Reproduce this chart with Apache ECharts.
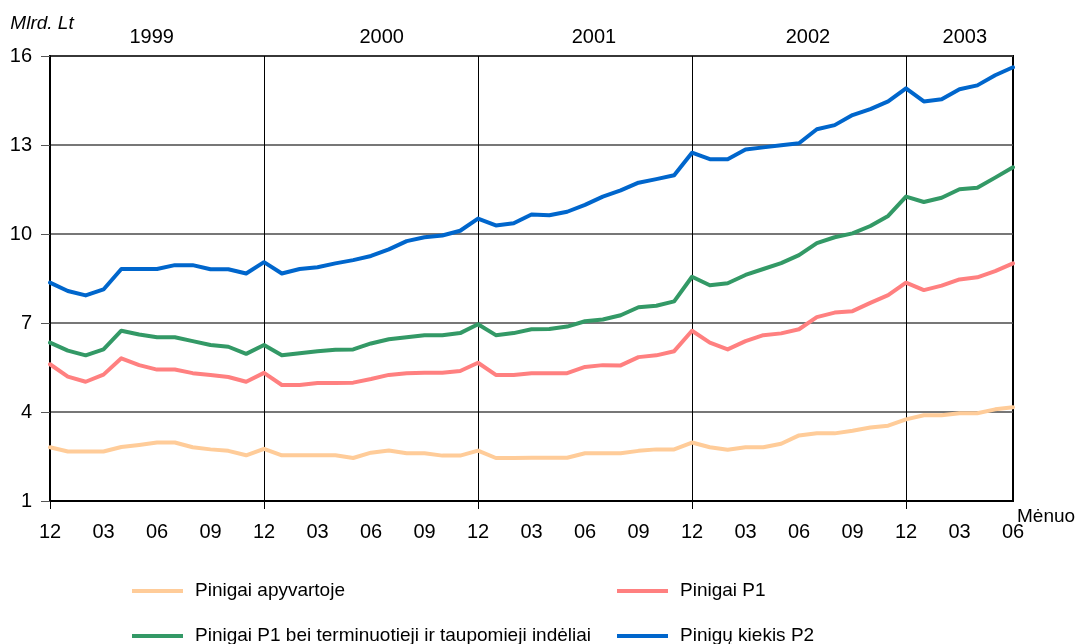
<!DOCTYPE html>
<html>
<head>
<meta charset="utf-8">
<script src="https://cdn.jsdelivr.net/npm/echarts@6/dist/echarts.min.js"></script>
<style>
  html, body { margin: 0; padding: 0; background: #ffffff; }
  #chart { width: 1075px; height: 644px; }
</style>
</head>
<body>
<div id="chart"></div>
<script>
// Monthly observations, December 1998 – June 2003 (billions of litas)
const months = [
  '1998-12',
  '1999-01','1999-02','1999-03','1999-04','1999-05','1999-06','1999-07','1999-08','1999-09','1999-10','1999-11','1999-12',
  '2000-01','2000-02','2000-03','2000-04','2000-05','2000-06','2000-07','2000-08','2000-09','2000-10','2000-11','2000-12',
  '2001-01','2001-02','2001-03','2001-04','2001-05','2001-06','2001-07','2001-08','2001-09','2001-10','2001-11','2001-12',
  '2002-01','2002-02','2002-03','2002-04','2002-05','2002-06','2002-07','2002-08','2002-09','2002-10','2002-11','2002-12',
  '2003-01','2003-02','2003-03','2003-04','2003-05','2003-06'
];

const yearLabels = ['1999', '2000', '2001', '2002', '2003'];

// Pinigai apyvartoje
const cashInCirculation = [
  2.81,
  2.67, 2.67, 2.67, 2.82, 2.89, 2.97, 2.97, 2.81, 2.74, 2.69, 2.54, 2.76,
  2.54, 2.54, 2.54, 2.54, 2.45, 2.63, 2.70, 2.61, 2.61, 2.53, 2.53, 2.70,
  2.45, 2.45, 2.46, 2.46, 2.46, 2.61, 2.61, 2.61, 2.69, 2.74, 2.74, 2.97,
  2.81, 2.73, 2.81, 2.81, 2.93, 3.21, 3.28, 3.28, 3.37, 3.48, 3.54, 3.75,
  3.89, 3.89, 3.96, 3.96, 4.09, 4.16
];

// Pinigai P1
const moneyP1 = [
  5.61,
  5.19, 5.02, 5.26, 5.81, 5.58, 5.43, 5.43, 5.31, 5.25, 5.18, 5.02, 5.32,
  4.91, 4.91, 4.98, 4.98, 4.99, 5.11, 5.25, 5.31, 5.32, 5.32, 5.38, 5.66,
  5.25, 5.25, 5.31, 5.31, 5.31, 5.52, 5.58, 5.57, 5.85, 5.91, 6.05, 6.74,
  6.34, 6.11, 6.39, 6.59, 6.65, 6.79, 7.20, 7.35, 7.40, 7.68, 7.94, 8.36,
  8.11, 8.26, 8.47, 8.54, 8.75, 9.01
];

// Pinigai P1 bei terminuotieji ir taupomieji indėliai
const p1WithDeposits = [
  6.34,
  6.07, 5.91, 6.11, 6.74, 6.61, 6.52, 6.52, 6.39, 6.26, 6.20, 5.96, 6.26,
  5.91, 5.98, 6.05, 6.10, 6.11, 6.31, 6.45, 6.52, 6.59, 6.59, 6.66, 6.96,
  6.59, 6.66, 6.79, 6.80, 6.88, 7.06, 7.12, 7.26, 7.53, 7.58, 7.73, 8.56,
  8.27, 8.34, 8.62, 8.82, 9.02, 9.29, 9.69, 9.89, 10.02, 10.27, 10.61, 11.26,
  11.08, 11.22, 11.51, 11.56, 11.90, 12.25
];

// Pinigų kiekis P2
const moneyP2 = [
  8.36,
  8.08, 7.93, 8.13, 8.82, 8.82, 8.82, 8.95, 8.95, 8.81, 8.81, 8.67, 9.05,
  8.67, 8.82, 8.88, 9.01, 9.12, 9.26, 9.48, 9.76, 9.89, 9.95, 10.11, 10.52,
  10.29, 10.36, 10.66, 10.63, 10.75, 10.98, 11.26, 11.47, 11.73, 11.85, 11.98, 12.74,
  12.52, 12.52, 12.85, 12.92, 12.99, 13.06, 13.53, 13.67, 14.01, 14.21, 14.47, 14.91,
  14.47, 14.54, 14.88, 15.01, 15.35, 15.62
];

const FONT = "'Liberation Sans', Arial, sans-serif";
const FS = 20;        // axis text
const FS_LEGEND = 19; // legend text

// Where each year caption sits along the month index scale
const yearCaptionAt = [5.7, 18.6, 30.5, 42.5, 51.3];

const isDecember = (i) => i % 12 === 0;

const chart = echarts.init(document.getElementById('chart'), null, { renderer: 'canvas' });

const lineSeries = (name, data, color) => ({
  name,
  type: 'line',
  data,
  xAxisIndex: 0,
  yAxisIndex: 0,
  symbol: 'none',
  showSymbol: false,
  smooth: false,
  lineStyle: { color, width: 4, cap: 'round', join: 'round' },
  itemStyle: { color },
  emphasis: { disabled: true },
  animation: false
});

// One legend entry per block so the entries sit in a fixed 2 x 2 arrangement
const legendEntry = (name, left, top) => ({
  left, top,
  padding: 0,
  orient: 'horizontal',
  itemWidth: 51, itemHeight: 4, icon: 'rect',
  textStyle: { fontFamily: FONT, fontSize: FS_LEGEND, color: '#000', padding: [0, 0, 0, 7], lineHeight: 20 },
  data: [name],
  selectedMode: false
});

chart.setOption({
  animation: false,
  backgroundColor: '#ffffff',
  textStyle: { fontFamily: FONT },
  grid: {
    left: 50, right: 62, top: 56, bottom: 143,
    show: true, borderColor: '#000', borderWidth: 2,
    containLabel: false, outerBoundsMode: 'none'
  },
  legend: [
    legendEntry('Pinigai apyvartoje', 132, 581),
    legendEntry('Pinigai P1 bei terminuotieji ir taupomieji indėliai', 132, 626),
    legendEntry('Pinigai P1', 617, 581),
    legendEntry('Pinigų kiekis P2', 617, 626)
  ],
  xAxis: [
    {
      type: 'category',
      data: months,
      boundaryGap: false,
      position: 'bottom',
      name: 'Mėnuo',
      nameLocation: 'end',
      nameGap: 4,
      nameMoveOverlap: false,
      nameTextStyle: { fontFamily: FONT, fontSize: 19, color: '#000', align: 'left', verticalAlign: 'top', padding: [6, 0, 0, 0] },
      axisLine: { show: true, lineStyle: { color: '#000', width: 2 } },
      axisTick: { show: true, interval: (i) => isDecember(i), length: 8, lineStyle: { color: '#000', width: 1 } },
      axisLabel: {
        interval: 2,
        margin: 21,
        fontFamily: FONT, fontSize: FS, color: '#000',
        formatter: (v) => v.slice(5)
      },
      splitLine: { show: true, interval: (i) => isDecember(i), lineStyle: { color: '#000', width: 1 } }
    },
    {
      type: 'value',
      position: 'top',
      min: 0,
      max: months.length - 1,
      axisLine: { show: false },
      axisTick: { show: false },
      splitLine: { show: false },
      axisLabel: {
        show: true,
        customValues: yearCaptionAt,
        margin: 9,
        fontFamily: FONT, fontSize: FS, color: '#000',
        formatter: (v) => {
          const k = yearCaptionAt.indexOf(v);
          return k >= 0 ? yearLabels[k] : '';
        }
      }
    }
  ],
  yAxis: {
    type: 'value',
    min: 1, max: 16, interval: 3,
    name: 'Mlrd. Lt',
    nameLocation: 'end',
    nameGap: 23,
    nameMoveOverlap: false,
    nameTextStyle: { fontFamily: FONT, fontSize: 19, fontStyle: 'italic', color: '#000', align: 'center', padding: [0, 16, 0, 0] },
    axisLine: { show: true, lineStyle: { color: '#000', width: 2 } },
    axisTick: { show: true, length: 9, lineStyle: { color: '#555', width: 1 } },
    axisLabel: { margin: 18, fontFamily: FONT, fontSize: FS, color: '#000' },
    splitLine: { show: true, lineStyle: { color: '#4a4a4a', width: 1.5 } }
  },
  series: [
    lineSeries('Pinigai apyvartoje', cashInCirculation, '#FFCC99'),
    lineSeries('Pinigai P1', moneyP1, '#FF8080'),
    lineSeries('Pinigai P1 bei terminuotieji ir taupomieji indėliai', p1WithDeposits, '#339966'),
    lineSeries('Pinigų kiekis P2', moneyP2, '#0066CC')
  ]
});
</script>
</body>
</html>
